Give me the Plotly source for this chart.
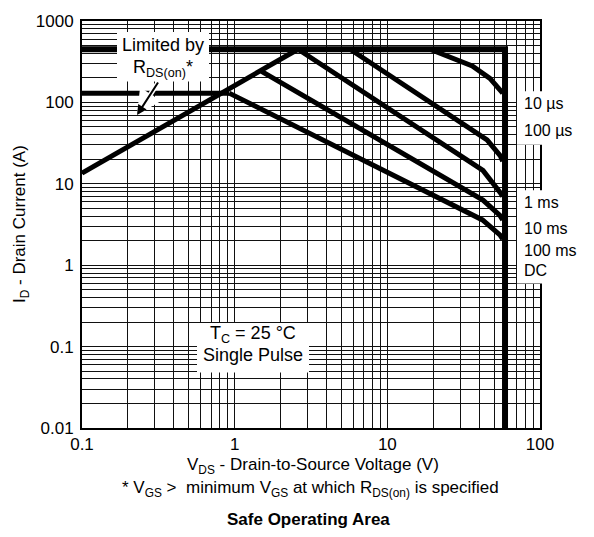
import plotly.graph_objects as go

# ---- limits of the device (V, A) ----
V_MAX = 59.0
I_MAX = 450.0
I_PKG = 130.0

# R_DS(on) limited region
rds_v = [0.1, 2.6]
rds_i = [13.5, 450.0]

# single-pulse boundaries
us10_v = [19.0, 36.0, 47.0, 57.0]
us10_i = [450.0, 280.0, 197.0, 130.0]

us100_v = [5.7, 45.0, 55.0, 57.0]
us100_i = [450.0, 34.7, 22.0, 19.0]

ms1_v = [2.6, 42.3, 54.6, 57.0]
ms1_i = [450.0, 14.6, 7.9, 7.0]

ms10_v = [1.5, 42.3, 54.6, 57.0]
ms10_i = [240.0, 6.3, 4.1, 3.6]

dc_v = [0.92, 42.0, 54.6, 57.0]
dc_i = [130.0, 3.6, 2.36, 2.1]

curve_labels = ["10 µs", "100 µs", "1 ms", "10 ms", "100 ms", "DC"]

x_decades = [0.1, 1, 10, 100]
y_decades = [0.01, 0.1, 1, 10, 100, 1000]
x_tick_text = ["0.1", "1", "10", "100"]
y_tick_text = ["0.01", "0.1", "1", "10", "100", "1000"]

FONT = "Liberation Sans, Arial, Helvetica, sans-serif"
FS = 17

# plot area in pixels
W, H = 594, 537
L, R, T, B = 82, 540, 17, 428


def px_x(p):
    return (p - L) / (R - L)


def px_y(p):
    return (B - p) / (B - T)


def log_grid(decades):
    vals = []
    for d in decades[:-1]:
        for k in range(1, 10):
            vals.append(d * k)
    vals.append(decades[-1])
    return vals


xvals = log_grid(x_decades)
yvals = log_grid(y_decades)
xtext = [x_tick_text[x_decades.index(v)] if v in x_decades else "" for v in xvals]
ytext = [y_tick_text[y_decades.index(v)] if v in y_decades else "" for v in yvals]

fig = go.Figure()


def add_line(x, y, w):
    fig.add_trace(go.Scatter(x=x, y=y, mode="lines",
                             line=dict(color="black", width=w),
                             hoverinfo="skip", showlegend=False))


# envelope: pulsed current ceiling and voltage wall
add_line([0.1, V_MAX, V_MAX], [I_MAX, I_MAX, 0.01], 6)
# package limit
add_line([0.1, dc_v[0]], [I_PKG, I_PKG], 5)
# R_DS(on) line
add_line(rds_v, rds_i, 5)
for vv, ii in [(us10_v, us10_i), (us100_v, us100_i), (ms1_v, ms1_i),
               (ms10_v, ms10_i), (dc_v, dc_i)]:
    add_line(vv, ii, 5)

axis_common = dict(
    type="log", showgrid=True, gridcolor="#111111", gridwidth=1,
    showline=True, linecolor="black", linewidth=2, mirror=True,
    ticks="", zeroline=False,
    tickfont=dict(family=FONT, size=FS, color="black"),
)

fig.update_xaxes(range=[-1, 2], tickmode="array", tickvals=xvals,
                 ticktext=xtext, ticklabelstandoff=0, **axis_common)
fig.update_yaxes(range=[-2, 3], tickmode="array", tickvals=yvals,
                 ticktext=ytext, ticklabelstandoff=3, **axis_common)

shapes = []


def white_box(x0, y0, x1, y1):
    shapes.append(dict(type="rect", xref="paper", yref="paper",
                       x0=px_x(x0), x1=px_x(x1), y0=px_y(y1), y1=px_y(y0),
                       fillcolor="white", line=dict(width=0), layer="above"))


white_box(117, 28, 209, 78)     # "Limited by" note
white_box(197, 322, 309, 372)   # test conditions
white_box(517, 88, 592, 142)    # 10 µs / 100 µs
white_box(517, 188, 592, 282)   # 1 ms ... DC

annotations = []


def text(x, y, s, size=FS, anchor="center", angle=0):
    annotations.append(dict(
        xref="paper", yref="paper", x=px_x(x), y=px_y(y), text=s,
        showarrow=False, xanchor=anchor, yanchor="middle", textangle=angle,
        font=dict(family=FONT, size=size, color="black"),
    ))


# curve labels
for lab, yy in zip(curve_labels, [100, 128, 200, 227, 249, 269]):
    text(522, yy, lab, size=16, anchor="left")

text(163, 41, "Limited by", size=18)
text(163, 65, "R<sub>DS(on)</sub>*", size=18)
text(253, 334, "T<sub>C</sub> = 25 °C", size=18)
text(253, 354, "Single Pulse", size=18)

# arrow pointing at the R_DS(on) line (white halo underneath)
for col, wid in [("white", 5), ("black", 2)]:
    annotations.append(dict(
        xref="paper", yref="paper", x=px_x(137), y=px_y(112),
        ax=22, ay=-34, axref="pixel", ayref="pixel", text="",
        showarrow=True, arrowhead=2, arrowsize=1, arrowwidth=wid,
        arrowcolor=col,
    ))

# axis titles and notes
text(313, 466, "V<sub>DS</sub> - Drain-to-Source Voltage (V)")
text(310, 490, "* V<sub>GS</sub> >  minimum V<sub>GS</sub> at which R<sub>DS(on)</sub> is specified")
text(308, 520, "<b>Safe Operating Area</b>")
text(21, 222, "I<sub>D</sub> - Drain Current (A)", angle=-90)

fig.update_layout(
    width=W, height=H,
    margin=dict(l=L, r=W - R, t=T, b=H - B),
    paper_bgcolor="white", plot_bgcolor="white",
    shapes=shapes, annotations=annotations,
    font=dict(family=FONT, color="black"),
)

fig.write_html("out.html")
